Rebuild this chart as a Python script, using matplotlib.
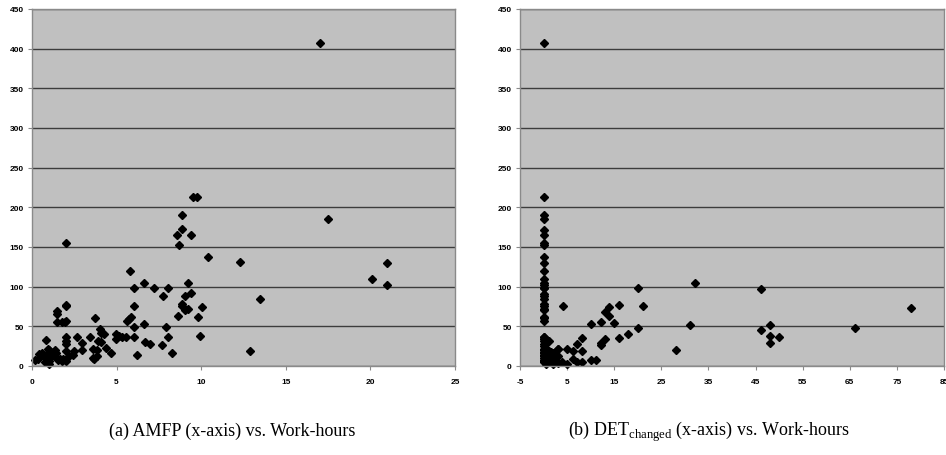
import numpy as np
import matplotlib
matplotlib.use('Agg')
import matplotlib.pyplot as plt

plt.rcParams['mathtext.fontset'] = 'custom'
plt.rcParams['mathtext.rm'] = 'Liberation Serif'
plt.rcParams['axes.unicode_minus'] = False

# (a) AMFP vs work-hours
amfp_x = [0.2, 0.37, 0.41, 0.6, 0.77, 0.77, 0.83, 0.97, 1.0, 1.0, 0.97, 1.0, 1.03, 1.0,
          1.16, 1.36, 1.42, 1.46, 1.56, 1.65, 1.75, 1.85, 2.0, 1.5, 1.5, 1.5, 1.75, 1.95,
          2.0, 2.0, 2.0, 2.0, 2.0, 2.0, 2.0, 2.0, 2.2, 2.4, 2.5, 2.68, 2.97, 2.97, 3.43,
          3.62, 3.62, 3.68, 3.82, 3.82, 3.74, 3.9, 4.0, 4.06, 4.25, 4.1, 4.35, 4.65, 4.96,
          4.96, 5.16, 5.3, 5.56, 5.61, 5.71, 5.87, 5.79, 6.01, 6.03, 6.05, 6.05, 6.19, 6.64,
          6.64, 6.71, 6.97, 7.2, 7.68, 7.74, 7.94, 8.02, 8.06, 8.25, 8.55, 8.65, 8.69, 8.85,
          8.85, 8.86, 8.86, 9.04, 9.04, 9.22, 9.24, 9.4, 9.42, 9.53, 9.77, 9.83, 9.95, 10.03,
          10.42, 12.29, 12.86, 13.46, 17.0, 17.51, 20.07, 20.96, 20.96]
amfp_y = [7, 8.5, 15, 16, 11.5, 5, 33, 22, 20, 16, 11.5, 6.5, 10, 2,
          13, 20, 16, 10, 7, 8.5, 6, 8.5, 6, 69, 65, 55, 55, 55,
          57, 76, 77, 155, 37, 31, 28, 18.5, 13, 14, 19.5, 36, 29.5, 20.4, 36,
          21, 10.5, 8.5, 12.6, 20, 60, 31, 46, 42, 40, 30, 23, 16, 34,
          40, 38, 36, 36.6, 57, 59, 61.5, 120, 75.8, 49, 97.7, 37, 14, 104.4,
          53, 30, 28, 98.5, 26, 88, 49, 36, 98.5, 17, 165, 62.7, 153, 172.6,
          190, 78, 76, 88, 70.7, 105, 72, 91.4, 165.5, 213.5, 212.6, 62, 37.5, 74.5,
          137, 130.5, 19, 84, 407, 185, 110, 129.7, 102]

# (b) DET_changed vs work-hours
det_x = [0] * 42 + [
    4.06, 1.16, 3.14, 5.05, 6.18, 6.18, 7.17, 7.03, 8.09, 8.09, 8.09, 10.07, 10.07, 11.1,
    12.1, 12.1, 12.1, 13.05, 13.05, 13.97, 13.97, 15.03, 16.1, 16.1, 18.0, 20.1, 20.1,
    21.0, 28.05, 31.1, 32.2, 46.1, 46.1, 48.0, 48.0, 48.0, 50.06, 66.1, 78.0,
    1, 1, 1, 1, 1.5, 1.5, 2, 2, 2, 2.5, 2.5, 3, 3, 3, 4, 5, 0.5, 0.5, 2]
det_y = [407, 213, 190, 185, 172, 165, 155, 153, 137, 130, 120, 110, 105, 102, 98.5,
         97.7, 91, 88, 84, 78, 76, 72, 70, 62, 60, 57, 37, 36, 34, 31, 28, 25, 22, 20,
         18, 16, 14, 12, 10, 8, 6, 5] + [
    76, 31.6, 22, 21, 19, 9, 5, 28, 35, 19, 5, 53, 7.6, 7.6,
    55.6, 29.5, 27, 68, 34.5, 63, 74.5, 54, 76.6, 35.4, 40.4, 97.7, 48,
    75, 20.6, 51.8, 104, 96.8, 45.9, 51.8, 37.5, 29, 36.2, 48, 73.7,
    31, 20, 15, 8, 18, 12, 17, 10, 6, 14, 7, 13, 4, 22, 5, 2, 10, 3, 3]

ylim = (0, 450)
yticks = [0, 50, 100, 150, 200, 250, 300, 350, 400, 450]

fig = plt.figure(figsize=(9.46, 4.56), dpi=100)
ax1 = fig.add_axes([0.0338, 0.1952, 0.4471, 0.7829])
ax2 = fig.add_axes([0.5497, 0.1952, 0.4482, 0.7829])


def style(ax, xlim, xticks):
    ax.set_facecolor('#c0c0c0')
    ax.set_xlim(*xlim)
    ax.set_ylim(*ylim)
    ax.set_xticks(xticks)
    ax.set_yticks(yticks)
    ax.grid(axis='y', color='#3c3c3c', lw=1.0)
    ax.set_axisbelow(True)
    for s in ax.spines.values():
        s.set_color('#8a8a8a')
        s.set_linewidth(1.0)
    ax.tick_params(axis='both', direction='out', length=3, width=0.8, color='#8a8a8a',
                   labelsize=6, pad=6)
    for lab in ax.get_xticklabels() + ax.get_yticklabels():
        lab.set_fontweight('bold')
        lab.set_fontfamily('Liberation Sans')
    ax.tick_params(axis='y', pad=3)


ax1.plot(amfp_x, amfp_y, 'D', color='black', markersize=3.6, clip_on=False)
style(ax1, (0, 25), [0, 5, 10, 15, 20, 25])

ax2.plot(det_x, det_y, 'D', color='black', markersize=3.6, clip_on=False)
style(ax2, (-5, 85), [-5, 5, 15, 25, 35, 45, 55, 65, 75, 85])

fig.text(0.245, 0.053, '(a) AMFP (x-axis) vs. Work-hours', ha='center', va='center',
         fontsize=13, family='Liberation Serif')
fig.text(0.749, 0.053, r'(b) DET$_{\mathrm{changed}}$ (x-axis) vs. Work-hours', ha='center',
         va='center', fontsize=13, family='Liberation Serif')

fig.savefig('out.png', dpi=100)
